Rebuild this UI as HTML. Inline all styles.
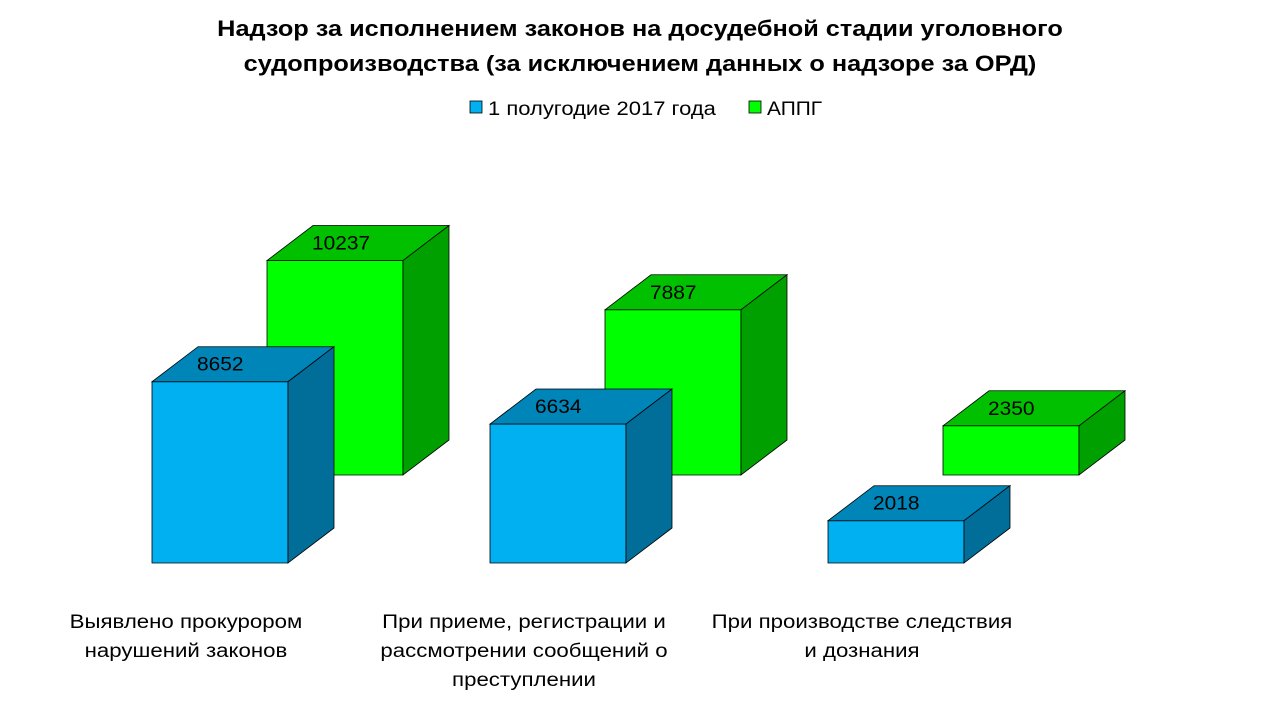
<!DOCTYPE html>
<html><head><meta charset="utf-8"><style>
body{margin:0;width:1280px;height:720px;background:#fff;overflow:hidden;font-family:"Liberation Sans","Noto Sans CJK SC",sans-serif}
</style></head><body>
<svg id="chart" width="1280" height="720" xmlns="http://www.w3.org/2000/svg" font-family="Liberation Sans, Noto Sans CJK SC, sans-serif">
<text class="st" data-f="1.15" x="640" y="36" text-anchor="middle" font-size="22" font-weight="bold">Надзор за исполнением законов на досудебной стадии уголовного</text>
<text class="st" data-f="1.15" x="640" y="71" text-anchor="middle" font-size="22" font-weight="bold">судопроизводства (за исключением данных о надзоре за ОРД)</text>
<g>
<rect x="470" y="101" width="12" height="12" fill="#00B0F0" stroke="#000" stroke-width="0.8"/>
<text class="st" data-f="1.157" x="488" y="115" font-size="19">1 полугодие 2017 года</text>
<rect x="749" y="101" width="12" height="12" fill="#00FF00" stroke="#000" stroke-width="0.8"/>
<text class="st" data-f="1.1" x="767" y="115" font-size="19">АППГ</text>
</g>
<g id="bars"></g>
<g id="cats"></g>
</svg>
<script>
const categories=[["Выявлено прокурором","нарушений законов"],["При приеме, регистрации и","рассмотрении сообщений о","преступлении"],["При производстве следствия","и дознания"]];
const series2017=[8652,6634,2018];
const seriesAPPG=[10237,7887,2350];
const NS="http://www.w3.org/2000/svg";
const scale=0.02095, W=136, DX=46, DY=35, STEP=338;
function yv(base,v){return base-v*scale;}
const bars=document.getElementById('bars');
function poly(pts,fill,g){const p=document.createElementNS(NS,'polygon');p.setAttribute('points',pts.map(a=>a.join(',')).join(' '));p.setAttribute('fill',fill);p.setAttribute('stroke','#000');p.setAttribute('stroke-width','0.8');g.appendChild(p);return p;}
function bar3d(x,base,v,cols,name){
 const g=document.createElementNS(NS,'g');
 
 
 const t=yv(base,v);
 poly([[x,t],[x+W,t],[x+W,base],[x,base]],cols[0],g);
 poly([[x,t],[x+DX,t-DY],[x+W+DX,t-DY],[x+W,t]],cols[1],g);
 poly([[x+W,t],[x+W+DX,t-DY],[x+W+DX,base-DY],[x+W,base]],cols[2],g);
 const tx=document.createElementNS(NS,'text');
 
 
 tx.setAttribute('class','st');tx.setAttribute('data-f','1.1');
 tx.setAttribute('x',x+45);tx.setAttribute('y',t-11);tx.setAttribute('font-size','19');
 tx.textContent=v;g.appendChild(tx);
 bars.appendChild(g);
}
for(let i=0;i<categories.length;i++){
 bar3d(267+i*STEP,475,seriesAPPG[i],['#00FF00','#00C000','#00A000'],'bar-appg-'+(i+1));
}
for(let i=0;i<categories.length;i++){
 bar3d(152+i*STEP,563,series2017[i],['#00B0F0','#0085B8','#006E99'],'bar-2017-'+(i+1));
}
const cats=document.getElementById('cats');
categories.forEach((lines,i)=>{
 lines.forEach((l,j)=>{
  const t=document.createElementNS(NS,'text');
  
  
  t.setAttribute('class','st');t.setAttribute('data-f','1.17');
  t.setAttribute('text-anchor','middle');t.setAttribute('font-size','19');
  t.setAttribute('x',186+i*STEP);t.setAttribute('y',628+j*29);
  t.textContent=l;cats.appendChild(t);
 });
});
document.querySelectorAll('text.st').forEach(t=>{
 const w=t.getComputedTextLength()*parseFloat(t.getAttribute('data-f'));
 t.setAttribute('textLength',w.toFixed(1));
 t.setAttribute('lengthAdjust','spacingAndGlyphs');
});
</script>
</body></html>
